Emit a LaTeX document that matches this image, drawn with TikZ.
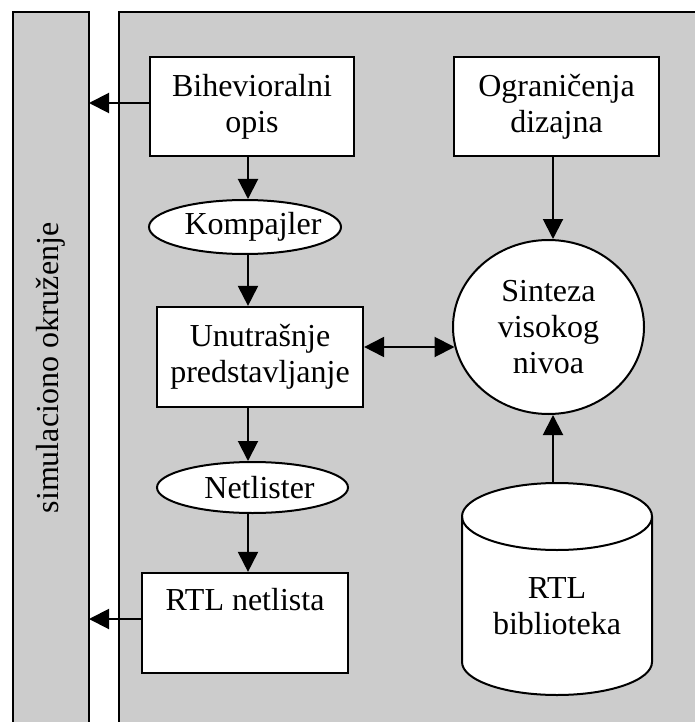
\documentclass[tikz,border=0pt]{standalone}
\usepackage{fontspec}
\setmainfont{Liberation Serif}
\usetikzlibrary{shapes.geometric,arrows.meta}
\definecolor{panelgray}{RGB}{204,204,204}

\begin{document}
\begin{tikzpicture}[x=1pt,y=-1pt,
  font=\fontsize{32}{36}\selectfont,
  frame/.style={draw=black,line width=2pt},
  box/.style={draw,fill=white,line width=2.2pt,inner sep=0pt,align=center},
  oval/.style={ellipse,draw,fill=white,line width=2pt,inner sep=0pt,align=center},
  arr/.style={line width=2pt,-{Triangle[length=20pt,width=20pt]}},
  dblarr/.style={line width=2pt,{Triangle[length=20pt,width=20pt]}-{Triangle[length=20pt,width=20pt]}},
]
\useasboundingbox (0,0) rectangle (694,722);

% simulation environment strip and main panel (open at the bottom and right)
\fill[panelgray] (13,12) rectangle (89,726);
\draw[frame] (13,726) -- (13,12) -- (89,12) -- (89,726);
\fill[panelgray] (119,12) rectangle (700,726);
\draw[frame] (119,726) -- (119,12) -- (700,12);
\node[rotate=90] (simtext) at (51,368) {simulaciono okruženje};
\coordinate (simedge) at (89,0);

% left column
\node[box,minimum width=204pt,minimum height=99pt] (behav) at (252,106.5) {Bihevioralni\\opis};
\node[oval,minimum width=192pt,minimum height=54pt] (komp) at (245,227) {\makebox[0pt]{\hspace*{16pt}Kompajler}};
\node[box,minimum width=206pt,minimum height=100pt] (unut) at (260,357) {Unutrašnje\\predstavljanje};
\node[oval,minimum width=191pt,minimum height=51pt] (netl) at (252.5,487.5) {\makebox[0pt]{\hspace*{14pt}Netlister}};
\node[box,minimum width=206pt,minimum height=100pt] (rtln) at (245,623) {RTL netlista\\\strut};

% right column
\node[box,minimum width=205pt,minimum height=99pt] (ogr) at (556.5,106.5) {Ograničenja\\dizajna};
\node[oval,minimum width=191pt,minimum height=174pt] (sint) at (548.5,327) {Sinteza\\visokog\\nivoa};

% library cylinder (y axis points down, so angles 0..180 run along the lower half)
\path[draw,fill=white,line width=2pt]
  (462,516.5) -- (462,662) arc[start angle=180,end angle=0,x radius=95,y radius=33]
  -- (652,516.5) arc[start angle=0,end angle=-180,x radius=95,y radius=33.5] -- cycle;
\draw[line width=2pt] (462,516.5) arc[start angle=180,end angle=0,x radius=95,y radius=33.5];
\coordinate (cyltop) at (557,483);
\node[align=center] (rtlb) at (557,606) {RTL\\biblioteka};

% connectors
\coordinate (spine) at (248,0);
\coordinate (rspine) at (553,0);
\coordinate (hline) at (0,347);
\coordinate (topline) at (0,103);
\coordinate (botline) at (0,619);
\draw[arr] (behav.west |- topline) -- (simedge |- topline);
\draw[arr] (rtln.west |- botline) -- (simedge |- botline);
\draw[arr] (spine |- behav.south) -- (spine |- komp.north);
\draw[arr] (spine |- komp.south) -- (spine |- unut.north);
\draw[arr] (spine |- unut.south) -- (spine |- netl.north);
\draw[arr] (spine |- netl.south) -- (spine |- rtln.north);
\draw[arr] (rspine |- ogr.south) -- (rspine |- sint.north);
\draw[arr] (rspine |- cyltop) -- (rspine |- sint.south);
\draw[dblarr] (unut.east |- hline) -- ([xshift=2.5pt]hline -| sint.west);
\end{tikzpicture}
\end{document}
